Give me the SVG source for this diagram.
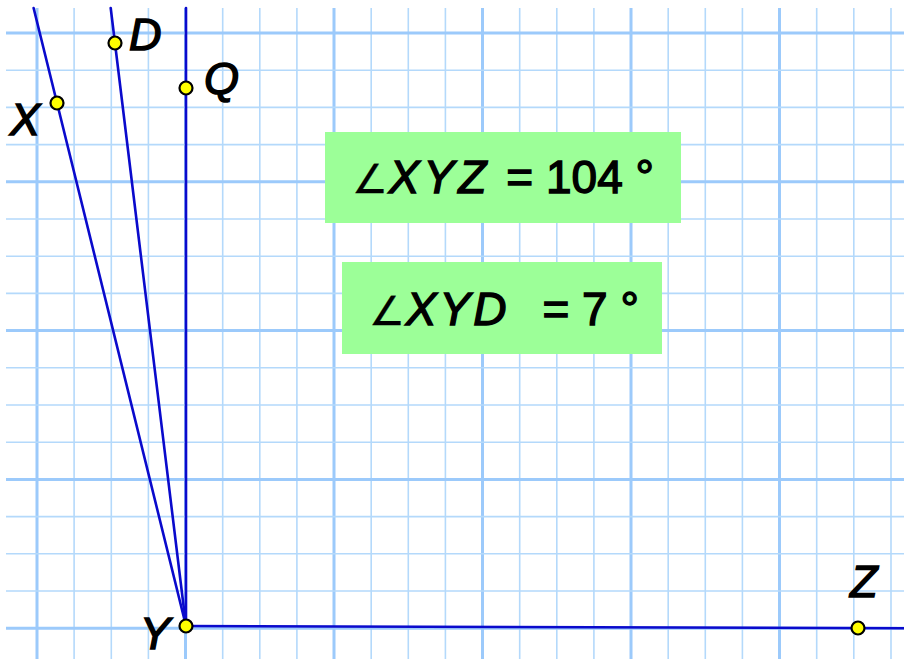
<svg xmlns="http://www.w3.org/2000/svg" width="904" height="659" viewBox="0 0 904 659">
<style>
.g{stroke:#b4d9fb;stroke-width:1.6;fill:none}
.gt{stroke:#9ccafb;stroke-width:3;fill:none}
.ln{stroke:#0a0acc;stroke-width:2.6;fill:none;stroke-linecap:round}
.pt{fill:#ffff00;stroke:#000;stroke-width:2.2}
.lbl{font-family:"Liberation Sans",Arial,sans-serif;font-size:45px;font-style:italic;fill:#000;stroke:#000;stroke-width:1.5}
.box{fill:#9cff98}
.bt{font-family:"Liberation Sans",Arial,sans-serif;font-size:46px;fill:#000;stroke:#000;stroke-width:1.4}
.it{font-style:italic}
.ang{font-family:"DejaVu Sans","Liberation Sans",sans-serif;font-size:40px;stroke-width:0.3}
</style>
<rect width="904" height="659" fill="#ffffff"/>
<g id="grid">
<path class="g" d="M74.1 8V659M111.3 8V659M148.4 8V659M222.7 8V659M259.8 8V659M296.9 8V659M371.2 8V659M408.3 8V659M445.4 8V659M519.7 8V659M556.8 8V659M593.9 8V659M668.2 8V659M705.3 8V659M742.4 8V659M816.7 8V659M853.8 8V659M891 8V659"/>
<path class="gt" d="M37 8V659M185.5 8V659M334 8V659M482.5 8V659M631 8V659M779.5 8V659"/>
<path class="g" d="M6 70.2H904M6 107.4H904M6 144.6H904M6 219H904M6 256.2H904M6 293.4H904M6 367.8H904M6 405H904M6 442.2H904M6 516.6H904M6 553.8H904M6 591H904"/>
<path class="gt" d="M6 33H904M6 181.8H904M6 330.6H904M6 479.4H904M6 628.2H904"/>
</g>
<g id="connectors">
<line class="ln" x1="186" y1="626" x2="33.6" y2="8"/>
<line class="ln" x1="186" y1="626" x2="110.7" y2="8"/>
<line class="ln" x1="186" y1="626" x2="186" y2="8"/>
<line class="ln" x1="186" y1="626" x2="904" y2="628.2"/>
</g>
<g id="node-X"><circle class="pt" cx="57" cy="103" r="6.5"/><text class="lbl" x="10" y="135">X</text></g>
<g id="node-D"><circle class="pt" cx="115" cy="43" r="6.5"/><text class="lbl" x="129" y="50">D</text></g>
<g id="node-Q"><circle class="pt" cx="186" cy="88" r="6.5"/><text class="lbl" x="204" y="94">Q</text></g>
<g id="node-Y"><circle class="pt" cx="186" cy="626" r="6.5"/><text class="lbl" x="140" y="649">Y</text></g>
<g id="node-Z"><circle class="pt" cx="858" cy="628" r="6.5"/><text class="lbl" x="850" y="597">Z</text></g>
<g id="box-XYZ">
<rect class="box" x="325" y="132" width="356" height="91"/>
<text class="bt" x="352" y="193"><tspan class="ang">∠</tspan><tspan class="it" dx="1" letter-spacing="4">XYZ</tspan><tspan dx="16">= 104 </tspan><tspan dx="0">°</tspan></text>
</g>
<g id="box-XYD">
<rect class="box" x="342" y="262" width="320" height="92"/>
<text class="bt" x="369" y="325"><tspan class="ang">∠</tspan><tspan class="it" dx="1" letter-spacing="3">XYD</tspan><tspan dx="33">= 7 °</tspan></text>
</g>
</svg>
